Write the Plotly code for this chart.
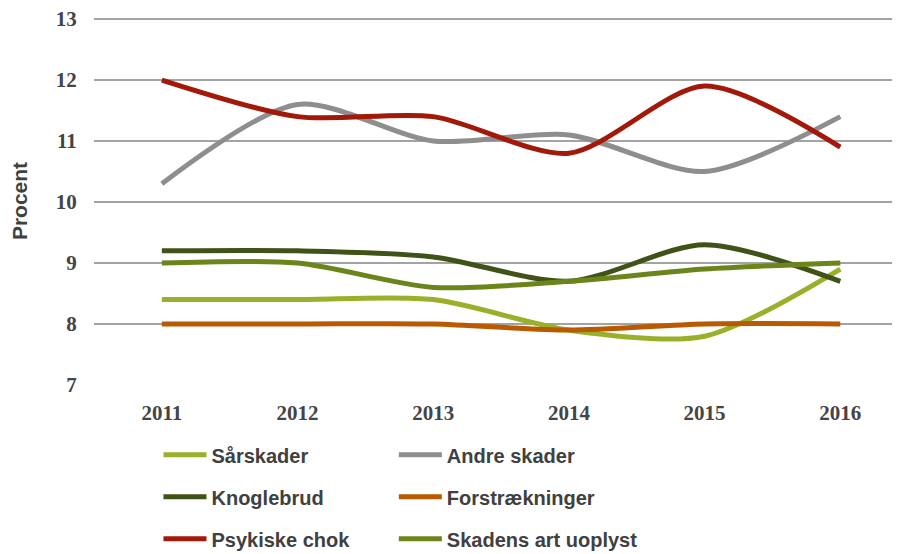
import plotly.graph_objects as go

years = ["2011", "2012", "2013", "2014", "2015", "2016"]
saarskader = [8.4, 8.4, 8.4, 7.9, 7.8, 8.9]
andre_skader = [10.3, 11.6, 11.0, 11.1, 10.5, 11.4]
knoglebrud = [9.2, 9.2, 9.1, 8.7, 9.3, 8.7]
forstraekninger = [8.0, 8.0, 8.0, 7.9, 8.0, 8.0]
psykiske_chok = [12.0, 11.4, 11.4, 10.8, 11.9, 10.9]
uoplyst = [9.0, 9.0, 8.6, 8.7, 8.9, 9.0]
y_ticks = [7, 8, 9, 10, 11, 12, 13]

series = [
    ("Sårskader", saarskader, "#9BB02A", "legend"),
    ("Andre skader", andre_skader, "#8E8E8E", "legend2"),
    ("Knoglebrud", knoglebrud, "#3F5217", "legend"),
    ("Forstrækninger", forstraekninger, "#B95A00", "legend2"),
    ("Psykiske chok", psykiske_chok, "#A2190A", "legend"),
    ("Skadens art uoplyst", uoplyst, "#6B851A", "legend2"),
]

fig = go.Figure()
for i, (name, vals, color, leg) in enumerate(series):
    fig.add_trace(go.Scatter(
        x=years, y=vals, name=name, mode="lines",
        line=dict(color=color, width=5, shape="spline", smoothing=0.8),
        legend=leg, legendgroup=f"g{i}",
    ))

legend_font = dict(family="Liberation Sans", size=20, color="#404040", weight="bold")
tick_font = dict(family="Liberation Serif", size=21, color="#444444", weight="bold")
fig.update_layout(
    width=892, height=546,
    margin=dict(l=86, r=0, t=9, b=169, autoexpand=False),
    paper_bgcolor="white", plot_bgcolor="white",
    showlegend=True,
    legend=dict(x=0.08, y=-0.1368, xanchor="left", yanchor="top",
                orientation="v", font=legend_font, tracegroupgap=13,
                itemwidth=43, bgcolor="rgba(0,0,0,0)"),
    legend2=dict(x=0.372, y=-0.1368, xanchor="left", yanchor="top",
                 orientation="v", font=legend_font, tracegroupgap=13,
                 itemwidth=43, bgcolor="rgba(0,0,0,0)"),
    xaxis=dict(
        type="category", range=[-0.5, 5.44], showgrid=False, zeroline=False,
        showline=False, ticks="outside", ticklen=9, tickcolor="rgba(0,0,0,0)",
        tickfont=tick_font, automargin=False,
    ),
    yaxis=dict(
        range=[7, 13.033], tickvals=y_ticks, showgrid=True, gridcolor="#A3A3A3",
        gridwidth=2, zeroline=False, showline=False, ticks="outside",
        ticklen=12, tickcolor="rgba(0,0,0,0)", automargin=False,
        ticklabeloverflow="allow", tickfont=tick_font,
        title=dict(text="Procent", standoff=24,
                   font=dict(family="Liberation Sans", size=21, color="#404040", weight="bold")),
    ),
)

fig.write_html("out.html")
